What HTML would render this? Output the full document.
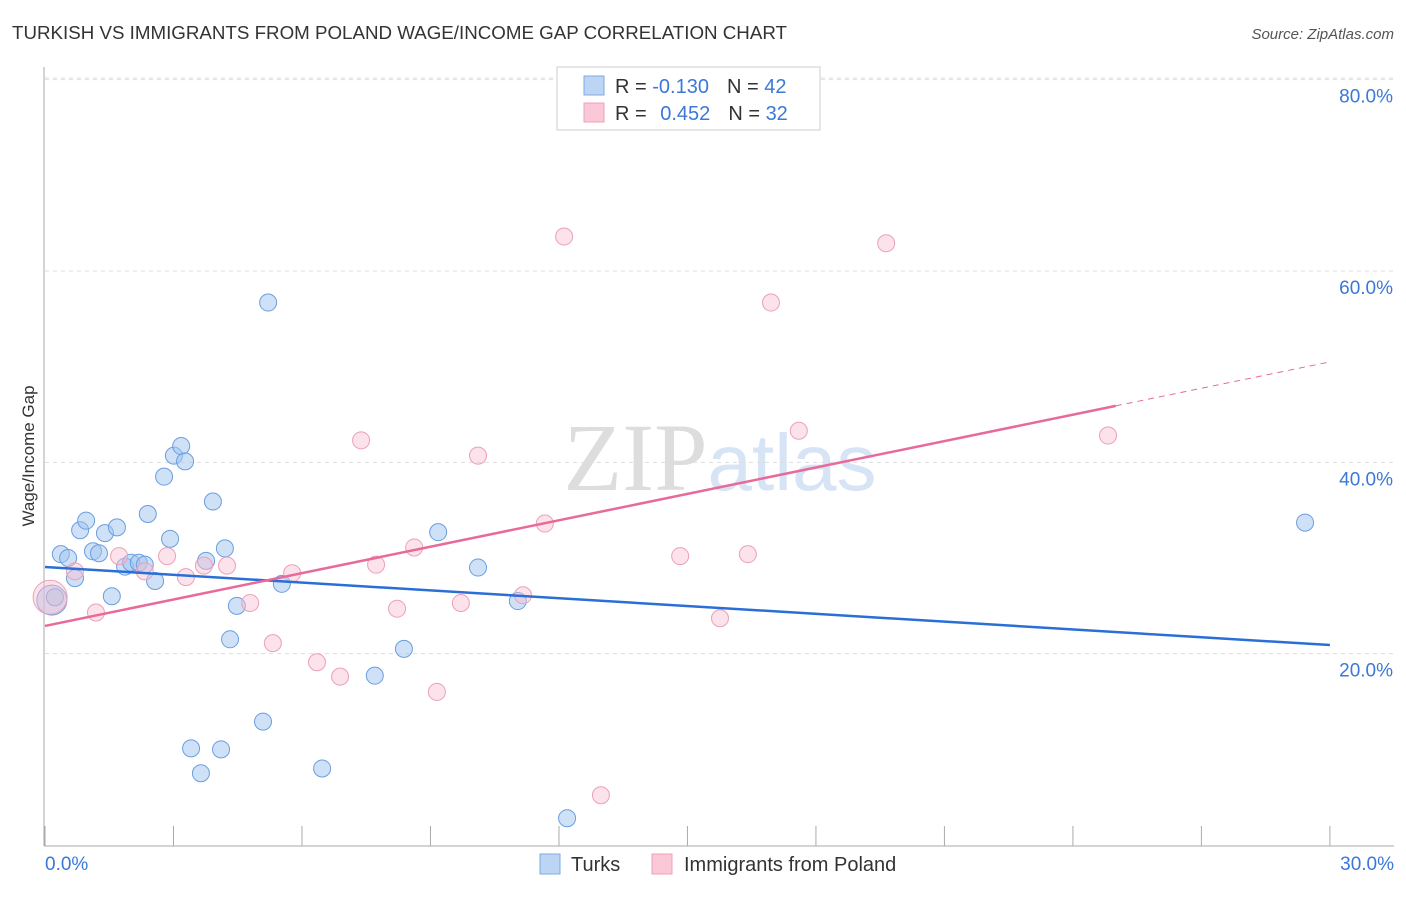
<!DOCTYPE html>
<html><head><meta charset="utf-8"><style>
body{margin:0;background:#fff;font-family:"Liberation Sans",sans-serif}
</style></head><body>
<svg id="chart" width="1406" height="892" viewBox="0 0 1406 892" xmlns="http://www.w3.org/2000/svg" font-family="Liberation Sans, sans-serif">
<text x="12" y="39" font-size="18" fill="#333" textLength="775" lengthAdjust="spacingAndGlyphs">TURKISH VS IMMIGRANTS FROM POLAND WAGE/INCOME GAP CORRELATION CHART</text>
<text x="1394" y="39" font-size="15" fill="#555" text-anchor="end" font-style="italic">Source: ZipAtlas.com</text>
<text x="720" y="490" font-size="96" text-anchor="middle" fill="#ddd" font-family="Liberation Serif, serif">ZIP<tspan fill="#d6e4f5" font-family="Liberation Sans, sans-serif" font-size="80">atlas</tspan></text>
<g id="grid"></g>
<g id="axes"></g>
<g id="marks"></g>
<text transform="translate(34,456) rotate(-90)" font-size="17" fill="#333" text-anchor="middle">Wage/Income Gap</text>
<g>
<rect x="557" y="67" width="263" height="63" fill="#fff" stroke="#ccc"/>
<rect x="584" y="76" width="20" height="19" fill="#bcd5f5" stroke="#7fa9e0"/>
<rect x="584" y="103" width="20" height="19" fill="#fac8d6" stroke="#eda1b8"/>
<text x="615" y="93" font-size="20" fill="#333">R = <tspan fill="#3b78d8">-0.130</tspan><tspan dx="18">N = </tspan><tspan fill="#3b78d8">42</tspan></text>
<text x="615" y="120" font-size="20" fill="#333">R = <tspan dx="8" fill="#3b78d8">0.452</tspan><tspan dx="18">N = </tspan><tspan fill="#3b78d8">32</tspan></text>
</g>
<g>
<rect x="540" y="854" width="20" height="20" fill="#bcd5f5" stroke="#7fa9e0"/>
<text x="571" y="871" font-size="20" fill="#333">Turks</text>
<rect x="652" y="854" width="20" height="20" fill="#fac8d6" stroke="#eda1b8"/>
<text x="684" y="871" font-size="20" fill="#333">Immigrants from Poland</text>
</g>
</svg>
<script>
const turksX=[0.16,0.23,0.37,0.54,0.7,0.82,0.96,1.12,1.26,1.4,1.56,1.68,1.87,2.01,2.19,2.33,2.4,2.57,2.78,2.92,3.01,3.18,3.27,3.41,3.64,3.76,3.92,4.11,4.2,4.32,4.48,5.09,5.21,5.53,6.47,7.7,8.38,9.18,10.11,11.04,12.19,29.42];
const turksY=[25.6,25.9,30.4,30.0,27.9,32.9,33.9,30.7,30.5,32.6,26.0,33.2,29.1,29.5,29.5,29.3,34.6,27.6,38.5,32.0,40.7,41.7,40.1,10.1,7.5,29.7,35.9,10.0,31.0,21.5,25.0,12.9,56.7,27.3,8.0,17.7,20.5,32.7,29.0,25.5,2.8,33.7];
const polandX=[0.12,0.7,1.19,1.73,2.33,2.85,3.29,3.71,4.25,4.79,5.32,5.77,6.35,6.89,7.38,7.73,8.22,8.62,9.15,9.71,10.11,11.16,11.67,12.12,12.98,14.83,15.76,16.41,16.95,17.6,19.64,24.82];
const polandY=[25.9,28.6,24.3,30.2,28.6,30.2,28.0,29.2,29.2,25.3,21.1,28.4,19.1,17.6,42.3,29.3,24.7,31.1,16.0,25.3,40.7,26.1,33.6,63.6,5.2,30.2,23.7,30.4,56.7,43.3,62.9,42.8];
const turksTrend=[29.06,20.9];
const polandTrend=[22.9,50.5];
const polandSolidEnd=25;
const yTicks=[20,40,60,80];
const xTicks=[0,3,6,9,12,15,18,21,24,27,30];
const NS='http://www.w3.org/2000/svg';
const sx=v=>45+v*42.83, sy=v=>845-v*9.567;
function mk(tag,attrs,parent){const e=document.createElementNS(NS,tag);for(const k in attrs)e.setAttribute(k,attrs[k]);document.getElementById(parent).appendChild(e);return e;}
yTicks.forEach(t=>{
 const l=mk('line',{x1:45,x2:1394,y1:sy(t),y2:sy(t),stroke:'#ddd','stroke-dasharray':'4,4'},'grid');
 
 
 const tx=mk('text',{x:1393,y:sy(t)+23,'font-size':19,fill:'#3b78d8','text-anchor':'end'},'axes');tx.textContent=t.toFixed(1)+'%';
 
 
});
mk('line',{x1:45,x2:1394,y1:78,y2:78,stroke:'#ddd','stroke-dasharray':'4,4'},'grid');
mk('line',{x1:44,x2:44,y1:67,y2:846,stroke:'#aaa'},'axes');
mk('line',{x1:44,x2:1394,y1:846,y2:846,stroke:'#aaa'},'axes');
xTicks.forEach(t=>{const l=mk('line',{x1:sx(t),x2:sx(t),y1:826,y2:846,stroke:'#aaa'},'axes');
 
 });
[[0,'start',45],[30,'end',1394]].forEach(([t,a,x])=>{const tx=mk('text',{x:x,y:870,'font-size':19,fill:'#3b78d8','text-anchor':a},'axes');tx.textContent=t.toFixed(1)+'%';
 
 });
turksX.forEach((x,i)=>{const c=mk('circle',{cx:sx(x),cy:sy(turksY[i]),r:i==0?15:8.5,fill:'rgba(160,196,240,0.5)',stroke:'#6a9ee0','stroke-width':1},'marks');
 
 });
polandX.forEach((x,i)=>{const c=mk('circle',{cx:sx(x),cy:sy(polandY[i]),r:i==0?17:8.5,fill:'rgba(248,190,208,0.45)',stroke:'#eca0b8','stroke-width':1},'marks');
 
 });
const tl=mk('line',{x1:sx(0),y1:sy(turksTrend[0]),x2:sx(30),y2:sy(turksTrend[1]),stroke:'#2a6fd6','stroke-width':2.5},'marks');


const pe=polandTrend[0]+(polandTrend[1]-polandTrend[0])*polandSolidEnd/30;
const pl=mk('line',{x1:sx(0),y1:sy(polandTrend[0]),x2:sx(polandSolidEnd),y2:sy(pe),stroke:'#e8699a','stroke-width':2.5},'marks');


const pd=mk('line',{x1:sx(polandSolidEnd),y1:sy(pe),x2:sx(30),y2:sy(polandTrend[1]),stroke:'#e8699a','stroke-width':1,'stroke-dasharray':'6,5'},'marks');


</script>
</body></html>
